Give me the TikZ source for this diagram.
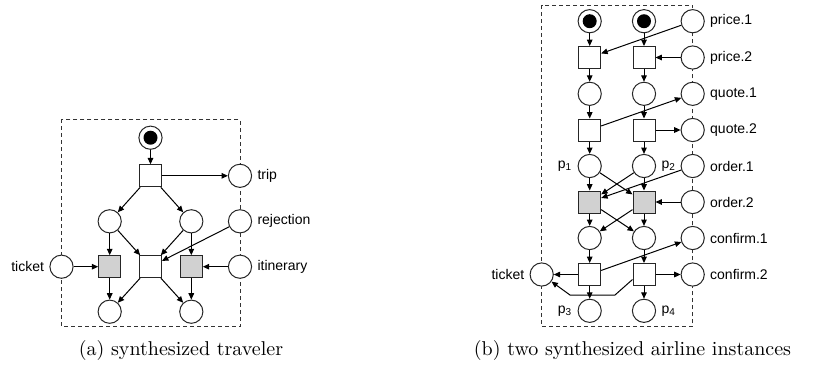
\documentclass[tikz,border=0pt]{standalone}
\usepackage{fontspec}
\newfontfamily\lblfont{Liberation Sans}
\usetikzlibrary{arrows.meta}
\begin{document}
\begin{tikzpicture}[x=0.5pt,y=-0.5pt,
  place/.style={circle,draw=black!85,line width=0.5pt,fill=white,minimum size=11.6pt,inner sep=0pt},
  trans/.style={rectangle,draw=black!85,line width=0.5pt,fill=white,minimum size=11pt,inner sep=0pt},
  graytrans/.style={trans,fill=black!18},
  token/.style={place,path picture={\fill[black] (path picture bounding box.center) circle (3.5pt);}},
  arc/.style={-{Triangle[length=3.2pt,width=2.8pt]},line width=0.5pt},
  box/.style={dash pattern=on 2pt off 1.5pt,line width=0.5pt,draw=black!80},
  lbl/.style={font=\lblfont\fontsize{7}{8}\selectfont,inner sep=1pt},
  captext/.style={font=\fontsize{10}{12}\selectfont,inner sep=0pt}]
\useasboundingbox (0,0) rectangle (827,366);

% ---------------- (a) ----------------
\draw[box] (61.5,119.3) rectangle (240,326.7);
\node[token] (a0) at (150.5,137.7) {};
\node[trans] (at1) at (150.5,175.8) {};
\node[place] (trip) at (240,175.8) {};
\node[place] (al) at (109.7,221.3) {};
\node[place] (ar) at (191.3,221.3) {};
\node[place] (rej) at (240,221.3) {};
\node[place] (ticketA) at (61.5,266.7) {};
\node[graytrans] (tl) at (109.7,266.7) {};
\node[trans] (tm) at (150.5,266.7) {};
\node[graytrans] (tr) at (191.3,266.7) {};
\node[place] (itin) at (240,266.7) {};
\node[place] (bl) at (109.7,311.7) {};
\node[place] (br) at (191.3,311.7) {};

\node[lbl,anchor=west] (ltrip) at ([xshift=1.5pt]trip.east) {trip};
\node[lbl,anchor=west] (lrej) at ([xshift=1.5pt]rej.east) {rejection};
\node[lbl,anchor=west] (litin) at ([xshift=1.5pt]itin.east) {itinerary};
\node[lbl,anchor=east] (lticketA) at ([xshift=-1.5pt]ticketA.west) {ticket};

\draw[arc] (a0) -- (at1);
\draw[arc] (at1) -- (trip);
\draw[arc] (at1) -- (al);
\draw[arc] (at1) -- (ar);
\draw[arc] (al) -- (tl);
\draw[arc] (al) -- (tm);
\draw[arc] (ar) -- (tm);
\draw[arc] (ar) -- (tr);
\draw[arc] (rej) -- (tm);
\draw[arc] (ticketA) -- (tl);
\draw[arc] (itin) -- (tr);
\draw[arc] (tl) -- (bl);
\draw[arc] (tm) -- (bl);
\draw[arc] (tm) -- (br);
\draw[arc] (tr) -- (br);

% ---------------- (b) ----------------
\draw[box] (541.7,5) rectangle (692.7,326.7);
\node[token] (k1) at (589.7,21.2) {};
\node[token] (k2) at (644,21.2) {};
\node[place] (pr1) at (692.7,21.2) {};
\node[trans] (s11) at (589.7,57.5) {};
\node[trans] (s12) at (644,57.5) {};
\node[place] (pr2) at (692.7,57.5) {};
\node[place] (q1a) at (589.7,93.8) {};
\node[place] (q2a) at (644,93.8) {};
\node[place] (qu1) at (692.7,93.8) {};
\node[trans] (s31) at (589.7,130) {};
\node[trans] (s32) at (644,130) {};
\node[place] (qu2) at (692.7,130) {};
\node[place] (p1) at (589.7,166) {};
\node[place] (p2) at (644,166) {};
\node[place] (or1) at (692.7,166) {};
\node[graytrans] (g1) at (589.7,202) {};
\node[graytrans] (g2) at (644,202) {};
\node[place] (or2) at (692.7,202) {};
\node[place] (c1a) at (589.7,238) {};
\node[place] (c2a) at (644,238) {};
\node[place] (cf1) at (692.7,238) {};
\node[place] (ticketB) at (541.7,274.5) {};
\node[trans] (s71) at (589.7,274.5) {};
\node[trans] (s72) at (644,274.5) {};
\node[place] (cf2) at (692.7,274.5) {};
\node[place] (p3) at (589.7,310.8) {};
\node[place] (p4) at (644,310.8) {};

\node[lbl,anchor=west] (lpr1) at ([xshift=1.5pt]pr1.east) {price.1};
\node[lbl,anchor=west] (lpr2) at ([xshift=1.5pt]pr2.east) {price.2};
\node[lbl,anchor=west] (lqu1) at ([xshift=1.5pt]qu1.east) {quote.1};
\node[lbl,anchor=west] (lqu2) at ([xshift=1.5pt]qu2.east) {quote.2};
\node[lbl,anchor=west] (lor1) at ([xshift=1.5pt]or1.east) {order.1};
\node[lbl,anchor=west] (lor2) at ([xshift=1.5pt]or2.east) {order.2};
\node[lbl,anchor=west] (lcf1) at ([xshift=1.5pt]cf1.east) {confirm.1};
\node[lbl,anchor=west] (lcf2) at ([xshift=1.5pt]cf2.east) {confirm.2};
\node[lbl,anchor=east] (lticketB) at ([xshift=-1.5pt]ticketB.west) {ticket};
\node[lbl,anchor=east] (lp1) at ([xshift=-1.5pt]p1.west) {p\textsubscript{1}};
\node[lbl,anchor=west] (lp2) at ([xshift=1.5pt]p2.east) {p\textsubscript{2}};
\node[lbl,anchor=east] (lp3) at ([xshift=-1.5pt]p3.west) {p\textsubscript{3}};
\node[lbl,anchor=west] (lp4) at ([xshift=1.5pt]p4.east) {p\textsubscript{4}};

\draw[arc] (k1) -- (s11);
\draw[arc] (k2) -- (s12);
\draw[arc] (pr1) -- (s11);
\draw[arc] (pr2) -- (s12);
\draw[arc] (s11) -- (q1a);
\draw[arc] (s12) -- (q2a);
\draw[arc] (q1a) -- (s31);
\draw[arc] (q2a) -- (s32);
\draw[arc] (s31) -- (qu1);
\draw[arc] (s32) -- (qu2);
\draw[arc] (s31) -- (p1);
\draw[arc] (s32) -- (p2);
\draw[arc] (p1) -- (g1);
\draw[arc] (p1) -- (g2);
\draw[arc] (p2) -- (g2);
\draw[arc] (p2) -- (g1);
\draw[arc] (or1) -- (g1);
\draw[arc] (or2) -- (g2);
\draw[arc] (g1) -- (c1a);
\draw[arc] (g1) -- (c2a);
\draw[arc] (g2) -- (c2a);
\draw[arc] (g2) -- (c1a);
\draw[arc] (c1a) -- (s71);
\draw[arc] (c2a) -- (s72);
\draw[arc] (s71) -- (cf1);
\draw[arc] (s72) -- (cf2);
\draw[arc] (s71) -- (ticketB);
\coordinate (kb1) at (615,295);
\coordinate (kb2) at (570,295);
\draw[arc] ([yshift=-2.5pt]s72.west) -- (kb1) -- (kb2) -- (ticketB);
\draw[arc] (s71) -- (p3);
\draw[arc] (s72) -- (p4);

% captions
\node[captext] (capA) at (181,350) {(a) synthesized traveler};
\node[captext] (capB) at (632.5,350) {(b) two synthesized airline instances};
\end{tikzpicture}
\end{document}
